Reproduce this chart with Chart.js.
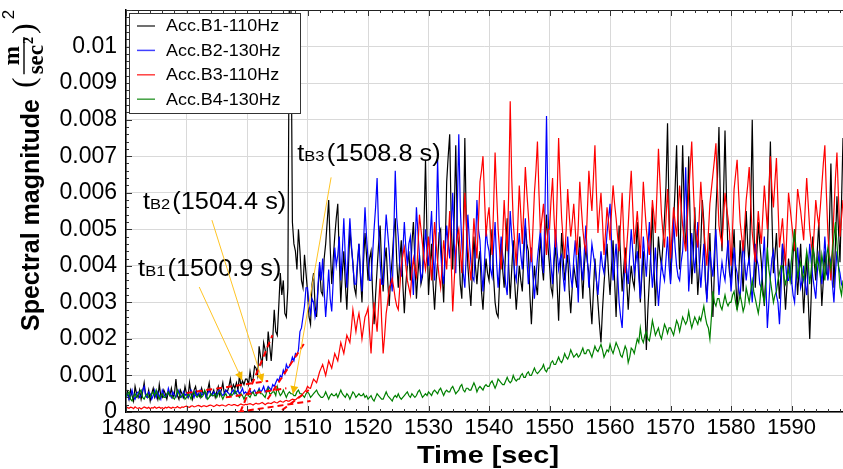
<!DOCTYPE html>
<html><head><meta charset="utf-8">
<script src="https://cdn.jsdelivr.net/npm/chart.js@4/dist/chart.umd.min.js"></script>
<style>html,body{margin:0;padding:0;background:#fff}#wrap{width:843px;height:469px;position:relative}</style>
</head><body><div id="wrap"><canvas id="c" width="843" height="469"></canvas></div>
<script>
// time axis: first sample and sampling step (seconds)
const T0 = 1480, DT = 0.25;
const UNIT = 1e-3; // values below are in units of 0.001 (m/sec^2)^2

const seriesLabels = ['Acc.B1-110Hz','Acc.B2-130Hz','Acc.B3-110Hz','Acc.B4-130Hz'];
const seriesColors = ['#000000','#0000ff','#ff0000','#008000'];

// one row = 5 s
const B1 = [
0.4,0.55,0.35,0.6,0.45,0.3,0.7,0.5,0.4,0.6,0.35,0.55,0.8,0.45,0.4,0.6,0.3,0.5,0.65,0.4,
0.5,0.35,0.75,0.45,0.4,0.6,0.5,0.35,0.55,0.45,0.65,0.4,0.5,0.9,0.45,0.35,0.6,0.5,0.4,0.7,
0.5,0.4,0.8,0.5,0.35,0.6,0.7,0.45,0.5,0.4,0.65,0.5,0.55,0.4,0.6,0.8,0.45,0.5,0.6,0.4,
0.55,0.7,0.45,0.6,0.8,0.5,0.6,0.55,0.7,0.9,0.6,0.75,0.65,0.8,0.6,1.0,0.7,0.85,0.75,0.9,
0.9,0.75,1.1,0.85,0.9,1.25,1.2,1.0,1.8,1.5,1.3,1.9,1.7,1.4,2.2,1.8,1.4,2.0,2.8,2.2,
2.1,2.9,3.8,3.2,3.6,2.7,2.6,3.4,11.5,11.5,5.2,4.6,4.4,3.9,5.0,4.4,3.6,3.4,4.3,3.8,
3.3,2.6,2.4,3.5,3.8,2.9,2.6,3.4,4.0,3.3,3.2,4.2,4.6,5.2,5.8,4.5,3.5,4.2,4.8,5.3,
5.7,4.2,3.0,3.8,4.4,3.5,2.8,3.9,5.0,4.5,4.1,3.4,3.2,4.0,4.6,3.7,3.0,4.1,4.9,4.3,
3.6,4.2,4.4,3.3,2.4,3.2,3.9,4.6,5.1,4.0,3.3,4.1,4.5,3.6,2.9,3.7,4.2,4.9,5.3,4.1,
3.4,4.2,4.7,3.5,2.7,3.5,4.0,4.4,3.6,4.6,5.2,4.1,3.1,3.8,4.3,3.5,3.7,5.1,6.9,4.8,
3.2,4.0,4.6,3.5,2.8,3.6,4.1,4.9,5.0,3.8,3.0,4.4,6.3,7.0,7.6,5.2,3.9,5.4,7.3,5.0,
4.5,3.5,3.1,4.8,7.5,5.1,4.0,3.4,2.9,3.9,4.8,4.0,3.5,4.1,4.4,3.3,2.8,3.6,4.2,3.8,
3.6,4.4,5.0,3.7,3.0,2.7,2.6,3.6,4.6,3.9,3.4,4.5,5.3,4.0,3.1,3.9,4.7,3.5,2.8,3.4,
4.0,3.6,3.3,4.3,5.1,4.6,4.4,3.2,2.4,3.3,4.0,3.5,3.2,4.1,4.8,4.0,3.6,4.6,5.4,4.5,
4.0,3.4,3.2,4.1,4.6,3.5,2.5,3.8,4.9,4.2,3.6,4.0,4.3,3.3,2.7,3.4,4.0,3.7,3.4,4.2,
4.8,3.9,3.1,4.0,4.5,4.1,3.8,3.0,2.4,3.3,4.2,3.6,3.0,2.4,1.9,2.8,3.5,4.1,4.6,3.8,
3.2,4.0,4.7,3.6,2.6,3.9,5.1,4.2,3.3,3.9,4.5,3.6,2.8,3.5,4.0,3.6,3.4,4.3,5.2,4.1,
3.0,3.7,4.4,3.0,1.7,2.8,3.6,4.4,5.6,4.0,2.9,3.9,4.8,4.3,4.0,4.6,5.3,6.2,7.9,5.5,
3.6,4.4,5.2,6.1,7.3,5.2,3.9,5.5,7.3,5.6,4.4,5.3,7.0,5.1,3.5,4.2,5.6,4.3,3.2,3.9,
4.6,5.8,5.2,3.6,3.1,4.0,4.9,3.6,2.6,3.9,5.5,6.4,7.8,5.6,4.4,5.9,7.7,5.8,4.3,3.8,
3.6,4.3,5.0,3.7,2.8,3.6,4.7,4.0,3.3,4.4,5.5,4.6,4.0,5.6,8.0,5.3,3.4,4.3,5.2,4.6,
4.1,3.4,2.9,3.7,4.4,5.8,7.4,5.4,3.8,4.3,4.9,3.9,3.1,3.8,4.6,3.6,2.8,3.5,4.2,3.8,
3.5,4.3,5.0,4.0,3.2,3.9,4.6,3.6,2.7,3.5,4.3,3.1,2.0,3.2,4.8,4.1,3.6,4.4,5.2,4.0,
2.9,3.6,4.4,3.8,3.7,5.1,6.8,4.9,3.4,4.6,5.9,5.0,4.1,5.7,7.5];

const B2 = [
0.4,0.5,0.35,0.45,0.6,0.4,0.35,0.5,0.55,0.4,0.45,0.6,0.7,0.45,0.4,0.55,0.5,0.35,0.45,0.6,
0.4,0.55,0.45,0.35,0.6,0.5,0.4,0.45,0.65,0.5,0.4,0.55,0.45,0.4,0.5,0.6,0.45,0.4,0.55,0.45,
0.5,0.4,0.45,0.6,0.5,0.4,0.55,0.45,0.5,0.6,0.45,0.5,0.55,0.4,0.5,0.6,0.5,0.45,0.55,0.5,
0.45,0.55,0.6,0.5,0.45,0.5,0.6,0.55,0.5,0.45,0.55,0.6,0.5,0.55,0.6,0.5,0.55,0.65,0.5,0.55,
0.5,0.55,0.6,0.5,0.55,0.6,0.5,0.55,0.65,0.55,0.6,0.7,0.55,0.6,0.7,0.65,0.6,0.75,0.7,0.8,
0.9,0.85,1.0,0.95,1.15,1.05,1.3,1.2,1.25,1.35,1.5,1.4,1.6,1.55,1.7,2.2,2.3,2.6,2.9,3.4,
3.4,2.9,2.7,3.1,3.0,2.6,2.8,3.5,4.1,3.6,4.2,3.3,2.6,3.2,3.9,3.1,2.75,3.6,4.5,4.0,
4.3,4.8,3.6,4.4,5.3,4.2,3.4,4.5,5.3,4.6,4.0,3.5,3.5,4.1,4.6,3.8,3.3,4.6,5.6,4.8,
4.2,3.6,3.6,4.3,5.0,5.6,6.4,5.0,4.1,3.5,3.5,4.6,5.4,4.9,4.4,3.7,3.3,4.8,6.6,5.3,
4.8,4.0,3.7,4.4,5.2,4.5,4.0,4.6,4.8,3.9,3.2,4.4,5.6,4.9,4.3,3.6,3.8,4.3,5.0,4.4,
4.0,4.8,5.5,4.3,3.6,4.9,6.9,5.2,4.4,3.8,3.5,4.4,5.1,4.6,4.2,5.1,6.0,4.6,3.8,5.5,
7.6,5.6,4.6,3.8,3.4,4.4,5.4,4.7,4.1,3.7,3.6,4.5,5.8,5.0,4.7,3.9,3.3,4.1,5.0,4.6,
4.4,3.9,3.7,4.5,5.2,4.1,3.4,4.0,4.8,4.3,4.0,3.5,3.2,4.3,5.5,4.8,4.3,3.8,3.6,4.4,
4.9,4.3,3.9,4.6,5.3,4.2,3.5,4.0,4.5,3.7,3.1,3.7,4.2,4.6,5.0,4.3,3.8,5.6,8.1,5.4,
4.6,4.0,3.5,4.3,5.0,4.4,3.9,4.2,4.3,3.7,3.3,4.1,4.8,4.2,3.7,3.4,4.2,4.7,3.9,3.0,
4.5,4.0,3.6,4.4,5.1,4.2,3.4,4.0,4.6,4.3,4.0,3.6,3.2,3.8,4.4,4.0,3.8,4.3,4.9,5.3,
5.7,4.6,3.6,4.1,4.6,3.8,3.0,2.6,2.3,3.3,4.2,3.9,3.5,4.3,5.0,4.4,3.8,4.1,4.4,3.7,
3.1,3.9,4.8,4.2,3.7,4.5,5.2,4.1,3.4,3.9,4.5,3.6,2.9,3.5,4.1,3.8,3.6,4.2,4.8,4.0,
3.5,4.4,5.3,4.5,4.0,3.7,3.6,4.1,4.4,5.3,6.7,5.0,3.3,4.0,4.9,4.3,3.8,4.5,5.2,4.1,
3.4,4.0,4.6,3.7,3.0,3.8,4.4,4.0,3.7,4.4,5.0,4.0,3.2,3.7,4.1,3.8,3.6,4.2,4.7,4.0,
3.3,3.9,4.5,4.0,3.8,3.4,3.1,3.9,4.7,4.1,3.6,4.0,4.2,3.6,3.0,3.8,4.6,4.2,4.0,3.5,
3.4,4.1,4.8,3.6,2.3,3.0,3.7,4.2,4.4,3.8,3.2,3.0,2.4,3.3,4.6,4.3,4.1,3.6,3.6,4.0,
3.6,3.2,3.0,3.8,4.5,3.9,3.4,3.6,4.0,3.5,3.2,3.9,4.6,4.1,3.7,3.4,3.1,3.8,4.3,4.0,
3.5,4.0,4.8,4.1,3.6,4.0,4.2,3.5,3.0,3.8,4.4,4.0,3.8,3.5,3.4];

const B3 = [
0.15,0.12,0.1,0.13,0.12,0.09,0.14,0.11,0.1,0.12,0.08,0.11,0.14,0.12,0.1,0.13,0.09,0.12,0.11,0.14,
0.1,0.12,0.13,0.1,0.12,0.09,0.13,0.11,0.14,0.12,0.1,0.13,0.11,0.12,0.15,0.12,0.11,0.14,0.13,0.15,
0.16,0.14,0.13,0.16,0.17,0.14,0.15,0.17,0.18,0.16,0.14,0.17,0.17,0.15,0.16,0.18,0.19,0.17,0.15,0.17,
0.2,0.18,0.17,0.19,0.19,0.17,0.16,0.19,0.21,0.19,0.18,0.2,0.2,0.18,0.17,0.2,0.22,0.2,0.19,0.21,
0.2,0.22,0.23,0.21,0.19,0.22,0.24,0.22,0.22,0.24,0.26,0.23,0.2,0.23,0.25,0.24,0.23,0.26,0.28,0.26,
0.25,0.28,0.3,0.28,0.27,0.3,0.32,0.3,0.3,0.33,0.35,0.34,0.33,0.37,0.4,0.42,0.45,0.5,0.55,0.6,
0.7,0.66,0.65,0.78,0.9,0.85,0.8,0.95,1.1,1.2,1.3,1.15,1.0,1.2,1.4,1.3,1.2,1.4,1.6,1.5,
1.4,1.65,1.9,1.75,1.6,1.85,2.1,2.0,1.9,2.3,2.8,2.5,2.2,2.5,2.7,2.4,2.0,2.3,2.6,2.7,
2.85,2.2,1.6,2.4,3.0,2.6,2.2,2.9,3.65,2.5,1.6,2.1,2.7,3.0,3.4,3.5,3.65,3.4,3.1,2.9,
2.8,3.4,4.0,4.3,4.5,4.0,3.6,3.4,3.2,3.8,4.2,3.9,3.7,4.5,5.4,5.0,4.6,4.2,3.9,4.3,
4.8,4.2,3.6,4.4,5.2,4.6,4.1,3.7,3.4,4.0,4.7,4.3,3.9,4.7,5.5,4.1,2.75,3.6,4.4,4.8,
5.0,4.4,3.8,4.9,6.0,5.2,4.5,4.0,3.6,4.4,5.3,4.7,4.2,5.2,6.3,6.6,7.0,5.9,4.8,5.3,
5.6,4.9,4.3,5.6,7.1,6.0,5.0,4.4,3.9,4.8,5.8,5.0,4.4,6.0,8.5,6.4,5.2,4.6,4.0,5.1,
6.2,5.4,4.6,5.6,6.7,6.0,5.4,4.7,4.1,5.0,6.0,6.6,7.4,6.0,4.9,5.3,5.7,5.0,4.3,5.0,
5.0,5.8,6.4,5.3,4.5,5.9,7.5,6.3,5.3,4.7,4.2,5.0,6.1,5.4,4.8,5.2,5.7,5.0,4.3,5.1,
6.3,5.6,5.0,4.6,4.4,5.5,6.6,6.0,5.5,6.4,7.3,6.0,4.9,5.5,6.0,5.2,4.3,4.9,5.6,5.2,
4.7,5.5,6.2,5.7,5.3,4.8,4.4,5.2,6.0,4.9,3.8,4.5,5.1,5.9,6.6,5.6,4.6,5.0,5.5,4.9,
4.2,5.2,6.3,5.6,5.0,4.6,4.3,5.0,5.8,5.4,4.9,6.0,7.2,6.3,5.4,4.9,4.5,5.3,6.1,5.2,
4.2,4.9,5.6,5.2,4.8,5.5,6.2,5.6,5.1,4.7,4.4,5.2,6.0,6.7,7.4,6.2,5.2,4.8,4.5,5.4,
6.3,5.6,5.0,4.5,4.0,4.9,5.7,6.1,6.5,6.9,7.35,6.1,5.1,4.8,4.6,5.3,6.0,5.6,5.3,4.9,
4.0,5.0,6.1,6.5,6.9,6.0,5.2,4.8,4.4,5.1,5.8,6.2,6.7,5.7,4.9,4.5,4.1,4.8,5.5,5.0,
4.6,5.4,6.2,5.6,5.0,6.0,7.0,6.1,5.6,6.3,6.95,5.7,4.5,4.9,5.3,4.6,4.0,5.0,6.0,5.6,
5.2,4.8,4.4,5.2,6.1,5.8,5.5,5.1,4.7,5.6,6.4,5.7,5.0,4.6,4.3,5.0,5.8,5.4,5.1,5.6,
6.2,6.8,7.3,6.0,4.9,4.2,3.6,4.5,5.5,6.4,7.1,5.9,4.8,5.3,5.8];

const B4 = [
0.4,0.5,0.55,0.35,0.3,0.45,0.5,0.4,0.45,0.55,0.6,0.4,0.35,0.45,0.5,0.4,0.4,0.5,0.55,0.45,
0.6,0.45,0.35,0.45,0.5,0.4,0.4,0.5,0.55,0.45,0.45,0.4,0.35,0.45,0.6,0.5,0.4,0.45,0.5,0.35,
0.4,0.5,0.45,0.35,0.5,0.55,0.45,0.4,0.45,0.5,0.4,0.45,0.6,0.5,0.35,0.4,0.5,0.45,0.45,0.5,
0.4,0.5,0.55,0.45,0.35,0.45,0.5,0.4,0.4,0.5,0.45,0.5,0.6,0.5,0.45,0.4,0.5,0.45,0.35,0.45,
0.5,0.45,0.4,0.5,0.55,0.45,0.45,0.55,0.6,0.5,0.5,0.45,0.4,0.55,0.65,0.5,0.5,0.55,0.55,0.45,
0.7,0.55,0.45,0.5,0.6,0.5,0.4,0.5,0.55,0.5,0.5,0.45,0.45,0.55,0.6,0.5,0.5,0.45,0.4,0.5,
0.55,0.5,0.4,0.45,0.5,0.55,0.6,0.5,0.45,0.4,0.4,0.45,0.55,0.45,0.35,0.45,0.5,0.45,0.45,0.5,
0.4,0.5,0.6,0.5,0.45,0.4,0.5,0.45,0.35,0.45,0.55,0.5,0.4,0.45,0.5,0.45,0.45,0.5,0.4,0.45,
0.35,0.4,0.45,0.35,0.3,0.4,0.5,0.45,0.4,0.35,0.35,0.45,0.55,0.45,0.4,0.35,0.3,0.4,0.45,0.4,
0.5,0.4,0.35,0.4,0.45,0.5,0.55,0.45,0.4,0.5,0.45,0.4,0.45,0.55,0.6,0.5,0.4,0.45,0.5,0.45,
0.55,0.5,0.45,0.55,0.6,0.55,0.5,0.6,0.65,0.55,0.45,0.55,0.6,0.55,0.55,0.65,0.7,0.6,0.5,0.55,
0.6,0.7,0.75,0.6,0.55,0.65,0.65,0.6,0.6,0.7,0.8,0.7,0.55,0.65,0.7,0.65,0.6,0.7,0.75,0.7,
0.7,0.8,0.85,0.75,0.65,0.75,0.9,0.85,0.8,0.75,0.75,0.85,0.95,0.85,0.8,0.85,1.0,0.9,0.85,0.9,
0.9,1.0,1.05,0.95,0.95,1.05,1.1,1.0,1.0,1.1,1.2,1.1,1.05,1.1,1.15,1.2,1.3,1.15,1.1,1.2,
1.2,1.35,1.4,1.3,1.3,1.4,1.5,1.4,1.35,1.45,1.6,1.5,1.45,1.55,1.7,1.6,1.5,1.55,1.6,1.5,
1.55,1.65,1.75,1.6,1.6,1.7,1.7,1.6,1.5,1.65,1.8,1.7,1.65,1.75,1.85,1.7,1.5,1.6,1.7,1.65,
1.85,1.7,1.6,1.75,1.9,1.8,1.7,1.55,1.5,1.65,1.8,1.7,1.35,1.5,1.75,1.7,1.6,1.8,2.0,1.9,
2.3,2.0,1.9,2.1,2.2,2.0,1.95,2.2,2.5,2.3,2.1,2.2,2.3,2.1,2.0,2.2,2.4,2.3,2.15,2.3,
2.3,2.2,2.1,2.3,2.5,2.4,2.2,2.4,2.6,2.5,2.4,2.5,2.75,2.5,2.3,2.45,2.6,2.5,2.4,2.6,
2.5,2.7,2.9,2.6,2.4,2.3,2.0,2.6,3.3,3.0,2.9,3.1,3.1,2.9,2.8,3.0,3.2,3.0,2.9,3.0,
3.0,3.2,3.3,3.0,2.8,3.0,3.2,3.0,2.75,2.9,3.4,3.2,3.0,3.3,3.6,3.3,3.1,2.9,2.7,3.0,
3.5,3.2,3.0,3.6,4.5,3.9,3.6,3.3,3.0,3.2,3.3,3.6,3.8,4.0,4.0,3.7,3.5,3.7,3.9,3.6,
4.2,4.6,5.0,4.4,3.7,3.9,4.1,3.8,3.6,4.0,4.4,4.1,3.5,3.9,4.5,4.3,3.9,4.2,4.0,3.7,
4.3,4.0,3.6,4.2,4.5,4.2,3.9,4.4,4.8,5.2,4.6,4.0,3.4,3.2,3.6];

// red dashed onset-fit lines, [time, value(x0.001)] end points
const fitLines = [
  [[1490,0.52],[1503.5,0.85]],
  [[1498.9,0.0],[1504.2,2.1]],
  [[1496.5,0.4],[1506.5,0.65]],
  [[1503.4,0.35],[1509.7,1.94]],
  [[1498.5,0.0],[1510.5,0.3]],
  [[1505.8,0.05],[1510.2,0.6]]
];

// onset annotations (time, value x0.001)
const onsetSubs  = ['B1','B2','B3'];
const onsetTexts = ['(1500.9 s)','(1504.4 s)','(1508.8 s)'];
const onsetLabelAt = [[1482.0,3.72],[1482.8,5.55],[1508.3,6.86]];
const onsetArrowFrom = [[1492.1,3.42],[1494.2,5.25],[1513.9,6.42]];
const onsetArrowTo   = [[1499.2,0.87],[1502.6,0.82],[1507.6,0.49]];

const xTicks = [1480,1490,1500,1510,1520,1530,1540,1550,1560,1570,1580,1590];
const yTicks = [0,0.001,0.002,0.003,0.004,0.005,0.006,0.007,0.008,0.009,0.01];
const X_MIN = 1480, X_MAX = 1598.5, Y_MIN = 0, Y_MAX = 0.011;

const FONT = '"Liberation Sans", Arial, Helvetica, sans-serif';
const SERIF = '"Liberation Serif", "DejaVu Serif", serif';

const toPts = vals => vals.map((v,i)=>({x: T0 + i*DT, y: v*UNIT}));
const series = [B1,B2,B3,B4];
const datasets = series.map((vals,k)=>({
  label: seriesLabels[k], data: toPts(vals), borderColor: seriesColors[k],
  borderWidth: 1.2, pointRadius: 0, tension: 0, order: 4-k
}));
fitLines.forEach(sg=>datasets.push({
  label: '', data: sg.map(p=>({x:p[0], y:p[1]*UNIT})), borderColor: '#ff0000',
  borderWidth: 2, borderDash: [6,4], pointRadius: 0, order: 0
}));

function seg(ctx,x1,y1,x2,y2){ctx.beginPath();ctx.moveTo(x1,y1);ctx.lineTo(x2,y2);ctx.stroke();}

const decor = {
  id: 'decor',
  afterDatasetsDraw(chart){
    const {ctx, chartArea:a, scales:{x,y}} = chart;
    ctx.save();
    ctx.strokeStyle = '#222'; ctx.lineWidth = 1;
    seg(ctx, a.left, a.top+0.5, a.right, a.top+0.5);
    ctx.strokeStyle = '#333'; ctx.lineWidth = 1;
    for (let i=0;i<=55;i++){
      const py = Math.round(y.getPixelForValue(i*0.0002))+0.5;
      if (py < a.top) continue;
      const L = (i%5===0)?6:3;
      seg(ctx, a.left, py, a.left+L, py);
    }
    for (let i=0;i<=59;i++){
      const t = 1480 + i*2; if (t > X_MAX) break;
      const px = Math.round(x.getPixelForValue(t))+0.5;
      const L = (i%5===0)?6:3;
      seg(ctx, px, a.bottom, px, a.bottom-L);
      seg(ctx, px, a.top, px, a.top+L);
    }
    for (let k=0;k<onsetSubs.length;k++){
      const fx = x.getPixelForValue(onsetArrowFrom[k][0]), fy = y.getPixelForValue(onsetArrowFrom[k][1]*UNIT);
      const tx = x.getPixelForValue(onsetArrowTo[k][0]), ty = y.getPixelForValue(onsetArrowTo[k][1]*UNIT);
      ctx.strokeStyle = '#ffc425'; ctx.lineWidth = 1;
      seg(ctx, fx, fy, tx, ty);
      const ang = Math.atan2(ty-fy, tx-fx), hl = 8, hw = 4;
      ctx.fillStyle = '#f5b800';
      ctx.beginPath();
      ctx.moveTo(tx, ty);
      ctx.lineTo(tx - hl*Math.cos(ang) + hw*Math.sin(ang), ty - hl*Math.sin(ang) - hw*Math.cos(ang));
      ctx.lineTo(tx - hl*Math.cos(ang) - hw*Math.sin(ang), ty - hl*Math.sin(ang) + hw*Math.cos(ang));
      ctx.closePath(); ctx.fill();
      const lx = x.getPixelForValue(onsetLabelAt[k][0]), ly = y.getPixelForValue(onsetLabelAt[k][1]*UNIT);
      ctx.save(); ctx.translate(lx, ly); ctx.scale(1.1, 1);
      ctx.fillStyle = '#000'; ctx.textBaseline = 'alphabetic'; ctx.textAlign = 'left';
      ctx.font = '23px ' + FONT; ctx.fillText('t', 0, 0);
      let cx = ctx.measureText('t').width;
      ctx.font = '15px ' + FONT; ctx.fillText(onsetSubs[k], cx, 0);
      cx += ctx.measureText(onsetSubs[k]).width + 2;
      ctx.font = '23px ' + FONT; ctx.fillText(onsetTexts[k], cx, 0);
      ctx.restore();
    }
    ctx.restore();
  },
  afterDraw(chart){
    const {ctx} = chart;
    ctx.save();
    // legend
    const bx = 129, by = 13, bw = 171, bh = 100;
    ctx.fillStyle = '#fff'; ctx.fillRect(bx, by, bw, bh);
    ctx.strokeStyle = '#333'; ctx.lineWidth = 1;
    ctx.strokeRect(bx+0.5, by+0.5, bw, bh);
    for (let k=0;k<4;k++){
      const ry = by + 13 + k*24.4;
      ctx.globalAlpha = 0.75; ctx.strokeStyle = seriesColors[k]; ctx.lineWidth = 1.5;
      seg(ctx, bx+8, ry, bx+26, ry);
      ctx.globalAlpha = 1;
      ctx.save(); ctx.translate(bx+37, ry); ctx.scale(1.12,1);
      ctx.fillStyle = '#000'; ctx.font = '16px ' + FONT; ctx.textBaseline = 'middle'; ctx.textAlign='left';
      ctx.fillText(seriesLabels[k], 0, 1);
      ctx.restore();
    }
    // x title
    ctx.save(); ctx.translate(488, 456); ctx.scale(1.2,1);
    ctx.fillStyle = '#000'; ctx.font = 'bold 24px ' + FONT; ctx.textAlign = 'center'; ctx.textBaseline = 'middle';
    ctx.fillText('Time [sec]', 0, 0); ctx.restore();
    // y title
    ctx.save(); ctx.translate(32, 215); ctx.rotate(-Math.PI/2);
    ctx.fillStyle = '#000'; ctx.font = 'bold 25px ' + FONT; ctx.textAlign = 'center'; ctx.textBaseline = 'middle';
    ctx.fillText('Spectral magnitude', 0, 0); ctx.restore();
    // unit (m/sec^2)^2, rotated
    ctx.save(); ctx.translate(24, 88); ctx.rotate(-Math.PI/2);
    ctx.fillStyle = '#000'; ctx.strokeStyle = '#000'; ctx.textBaseline = 'middle'; ctx.textAlign = 'left';
    ctx.font = '32px ' + SERIF; ctx.fillText('(', 0, 2);
    let u = ctx.measureText('(').width + 3;
    ctx.font = 'bold 23px ' + SERIF;
    const wSec = ctx.measureText('sec').width;
    ctx.font = 'bold 14px ' + SERIF;
    const wSup = ctx.measureText('2').width;
    const fw = wSec + wSup + 1;
    ctx.font = 'bold 23px ' + SERIF; ctx.textAlign = 'center';
    ctx.fillText('m', u + fw/2, -11);
    ctx.lineWidth = 1.4; seg(ctx, u, 0, u+fw, 0);
    ctx.textAlign = 'left'; ctx.fillText('sec', u, 13);
    ctx.font = 'bold 14px ' + SERIF; ctx.fillText('2', u + wSec + 1, 5);
    u += fw + 3;
    ctx.font = '32px ' + SERIF; ctx.fillText(')', u, 2);
    u += ctx.measureText(')').width + 4;
    ctx.font = '17px ' + FONT; ctx.fillText('2', u, -15);
    ctx.restore();
    ctx.restore();
  }
};

new Chart(document.getElementById('c'), {
  type: 'line',
  data: { datasets },
  options: {
    responsive: false, animation: false,
    layout: { padding: { top: 10, left: 0, right: 0, bottom: 0 } },
    plugins: { legend: { display: false }, tooltip: { enabled: false } },
    scales: {
      x: {
        type: 'linear', min: X_MIN, max: X_MAX,
        afterBuildTicks: s => { s.ticks = xTicks.map(v=>({value:v})); },
        afterFit: s => { s.height = 57; s.paddingLeft = 0; s.paddingRight = 0; },
        ticks: { font: { size: 22, family: FONT }, color: '#000', maxRotation: 0, autoSkip: false, padding: 3,
                 callback: v => String(v) },
        grid: { color: '#d9d9d9', lineWidth: 1, drawTicks: false },
        border: { display: true, color: '#000', width: 1.5 }
      },
      y: {
        type: 'linear', min: Y_MIN, max: Y_MAX,
        afterBuildTicks: s => { s.ticks = yTicks.map(v=>({value:v})); },
        afterFit: s => { s.width = 126; s.paddingTop = 0; s.paddingBottom = 0; },
        ticks: { font: { size: 23, family: FONT }, color: '#000', padding: 9,
                 callback: v => v === 0 ? '0' : String(parseFloat(v.toFixed(4))) },
        grid: { color: '#d9d9d9', lineWidth: 1, drawTicks: false },
        border: { display: true, color: '#000', width: 1.5 }
      }
    }
  },
  plugins: [decor]
});
</script>
</body></html>
